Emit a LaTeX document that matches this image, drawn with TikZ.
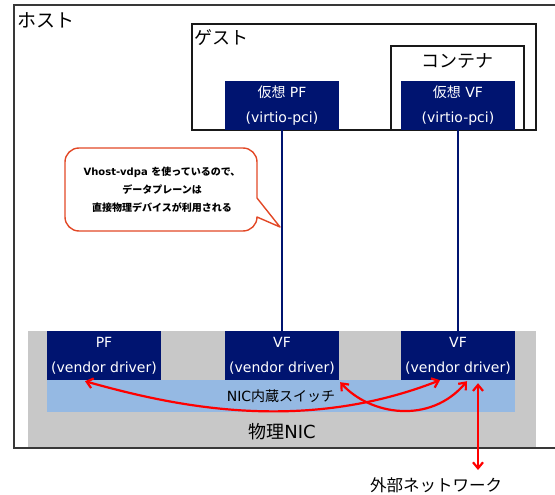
\documentclass[tikz,border=0pt]{standalone}
\usepackage{fontspec}
\setmainfont{DejaVu Sans}
\newfontfamily\jp{Noto Sans CJK JP}
\usetikzlibrary{arrows.meta,calc}
\definecolor{navy}{RGB}{0,20,112}
\definecolor{nicgray}{RGB}{200,200,200}
\definecolor{swblue}{RGB}{149,185,227}
\definecolor{callred}{RGB}{226,72,38}
\tikzset{
  frame/.style={draw=#1, line width=1.4pt, inner sep=0pt},
  fnbox/.style={fill=navy, text=white, minimum width=114pt, minimum height=49pt, inner sep=0pt, align=center, font=\fontsize{14}{25}\selectfont},
  lbl/.style={inner sep=0pt, font=\jp\fontsize{18}{20}\selectfont},
  link/.style={draw=navy, line width=1.8pt},
  redarr/.style={draw=red, line width=2.2pt, {Straight Barb[length=6pt,width=10pt]}-{Straight Barb[length=6pt,width=10pt]}},
}
\begin{document}
\begin{tikzpicture}[x=1pt,y=-1pt]
\useasboundingbox (0,0) rectangle (555,495);
\clip (0,0) rectangle (555,495);
% host
\node[frame={black!78}, minimum width=556pt, minimum height=443pt] (host) at (292,226.5) {};
\node[lbl, anchor=west, font=\jp\fontsize{19}{20}\selectfont] (hostlbl) at (17,20) {ホスト};
% guest
\node[frame={black!90}, minimum width=344pt, minimum height=106pt] (guest) at (364,77) {};
\node[lbl, anchor=west] (guestlbl) at (194,38) {ゲスト};
\node[frame={black!90}, minimum width=133pt, minimum height=84pt] (cont) at (457.5,88) {};
\node[lbl] (contlbl) at (457.5,61) {コンテナ};
\node[fnbox] (vpf) at (282,105.5) {{\jp 仮想} PF\\(virtio-pci)};
\node[fnbox] (vvf) at (458,105.5) {{\jp 仮想} VF\\(virtio-pci)};
% physical NIC
\node[fill=nicgray, minimum width=508pt, minimum height=116pt, inner sep=0pt] (nic) at (282,389) {};
\node[fill=swblue, minimum width=468pt, minimum height=32pt, inner sep=0pt, font=\fontsize{14}{16}\selectfont] (sw) at (281,396) {NIC{\jp 内蔵スイッチ}};
\node[fnbox] (pf) at (104,355.5) {PF\\(vendor driver)};
\node[fnbox] (vf1) at (282,355.5) {VF\\(vendor driver)};
\node[fnbox] (vf2) at (458,355.5) {VF\\(vendor driver)};
\node[inner sep=0pt, font=\fontsize{18}{20}\selectfont] (niclbl) at (282,432) {{\jp 物理}NIC};
% links
\draw[link] (vpf.south) -- (vf1.north);
\draw[link] (vvf.south) -- (vf2.north);
% callout
\node[inner sep=0pt, align=center, font=\bfseries\fontsize{10}{18}\selectfont] (note) at (162,190) {Vhost-vdpa {\jp\bfseries を使っているので、}\\{\jp\bfseries データプレーンは}\\{\jp\bfseries 直接物理デバイスが利用される}};
\coordinate (tip) at (280,227);
\draw[callred, line width=1.4pt, line join=round] (257,198) -- (tip) -- (257,217)
  [rounded corners=14pt] -- (257,231) -- (65,231) -- (65,148) -- (257,148) -- (257,198);
% red arrows
\draw[redarr] ($(pf.south)+(-19,1)$) .. controls (170,405) and (300,435) .. ($(vf2.south)+(-18,0)$);
\draw[redarr] ($(vf1.south east)+(1,2)$) .. controls (370,415) and (430,425) .. ($(vf2.south)+(9,1)$);
\coordinate (extpt) at (478,470);
\draw[redarr] ($(vf2.south)+(20,3)$) -- (extpt);
\node[inner sep=0pt, font=\jp\fontsize{16.5}{18}\selectfont] (ext) at (436,485) {外部ネットワーク};
\end{tikzpicture}
\end{document}
